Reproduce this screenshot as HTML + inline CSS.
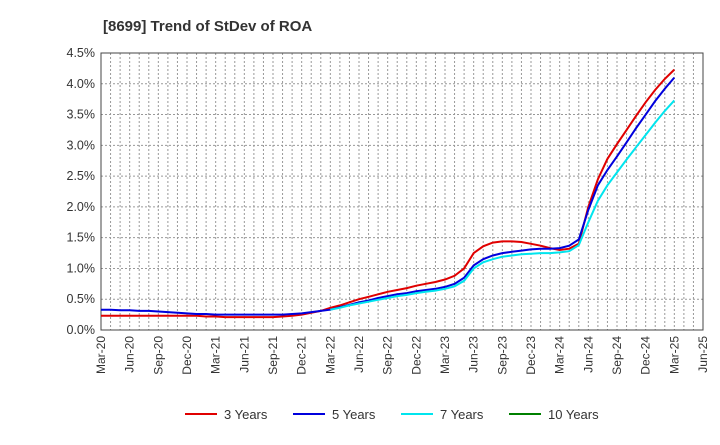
<!DOCTYPE html>
<html><head><meta charset="utf-8"><style>
body{margin:0;background:#fff;font-family:"Liberation Sans",Arial,sans-serif}
svg text{font-family:"Liberation Sans",Arial,sans-serif}
</style></head><body>
<svg id="chart" width="720" height="440">
<text x="103" y="31" font-size="15" font-weight="bold" fill="#333">[8699]  Trend of StDev of ROA</text>
<g id="grid"></g><g id="axes"></g><g id="series"></g><g id="legend"></g>
</svg>
<script>
const xLabels=["Mar-20","Jun-20","Sep-20","Dec-20","Mar-21","Jun-21","Sep-21","Dec-21","Mar-22","Jun-22","Sep-22","Dec-22","Mar-23","Jun-23","Sep-23","Dec-23","Mar-24","Jun-24","Sep-24","Dec-24","Mar-25","Jun-25"];
const yTicks=[0,0.5,1,1.5,2,2.5,3,3.5,4,4.5];
const seriesNames=["3 Years","5 Years","7 Years","10 Years"];
const seriesColors=["#e00000","#0000dd","#00e5ee","#008000"];
const s3=[0.23,0.23,0.23,0.23,0.23,0.23,0.23,0.23,0.23,0.23,0.23,0.22,
0.22,0.21,0.21,0.21,0.21,0.21,0.21,0.22,0.23,0.25,0.28,0.31,
0.36,0.40,0.45,0.50,0.54,0.58,0.62,0.65,0.68,0.72,0.75,0.78,
0.82,0.88,1.0,1.25,1.36,1.42,1.44,1.44,1.43,1.40,1.37,1.33,
1.30,1.32,1.40,2.0,2.45,2.78,3.02,3.25,3.48,3.7,3.9,4.08,4.23];
const s5=[0.33,0.33,0.32,0.32,0.31,0.31,0.30,0.29,0.28,0.27,0.26,0.26,
0.25,0.25,0.25,0.25,0.25,0.25,0.25,0.25,0.26,0.27,0.29,0.31,
0.33,0.37,0.41,0.45,0.48,0.52,0.55,0.58,0.60,0.63,0.65,0.67,
0.70,0.75,0.85,1.05,1.15,1.21,1.25,1.27,1.29,1.31,1.32,1.32,
1.33,1.37,1.47,1.95,2.35,2.6,2.82,3.05,3.28,3.5,3.72,3.92,4.1];
const s7=[null,null,null,null,null,null,null,null,null,null,null,null,
null,null,null,null,null,null,null,null,null,null,null,null,
0.33,0.36,0.40,0.43,0.46,0.49,0.52,0.55,0.57,0.60,0.62,0.64,
0.67,0.71,0.80,1.00,1.10,1.15,1.19,1.21,1.23,1.24,1.25,1.25,
1.26,1.28,1.38,1.75,2.1,2.35,2.56,2.77,2.97,3.17,3.37,3.56,3.73];
const s10=[];
const L=101,R=703,T=53,B=330,NM=63;
const xs=m=>L+(R-L)*m/NM;
const ys=v=>B-(B-T)*v/4.5;
const NS="http://www.w3.org/2000/svg";
function mk(tag,attrs,parent){const e=document.createElementNS(NS,tag);for(const k in attrs)e.setAttribute(k,attrs[k]);parent.appendChild(e);return e;}
const grid=document.getElementById('grid'),axes=document.getElementById('axes'),ser=document.getElementById('series'),leg=document.getElementById('legend');
for(let m=1;m<NM;m++){const g=mk('line',{x1:xs(m),x2:xs(m),y1:T,y2:B,stroke:'#999','stroke-dasharray':'2,2','stroke-width':1},grid);

}
yTicks.forEach(v=>{if(v>0&&v<4.5){const g=mk('line',{x1:L,x2:R,y1:ys(v),y2:ys(v),stroke:'#999','stroke-dasharray':'2,2','stroke-width':1},grid);

}
const t=mk('text',{x:L-6,y:ys(v)+4,'text-anchor':'end','font-size':12.5,fill:'#333'},axes);t.textContent=v.toFixed(1)+'%';

});
const fr=mk('rect',{x:L,y:T,width:R-L,height:B-T,fill:'none',stroke:'#444','stroke-width':1},axes);


xLabels.forEach((lab,i)=>{const x=xs(i*3),y=B+6;const t=mk('text',{x:x+4,y:y,'text-anchor':'end','font-size':12,fill:'#333',transform:`rotate(-90 ${x+4} ${y})`},axes);t.textContent=lab;

});
[s3,s5,s7,s10].forEach((arr,si)=>{let d='';arr.forEach((v,i)=>{if(v==null)return;d+=(d?'L':'M')+xs(i).toFixed(1)+','+ys(v).toFixed(1);});
if(d){const p=mk('path',{d:d,fill:'none',stroke:seriesColors[si],'stroke-width':2},ser);

}});
const lx=[185,293,401,509];
seriesNames.forEach((n,i)=>{const g=mk('g',{},leg);


mk('line',{x1:lx[i],x2:lx[i]+32,y1:414,y2:414,stroke:seriesColors[i],'stroke-width':2},g);
const t=mk('text',{x:lx[i]+39,y:419,'font-size':13,fill:'#333'},g);t.textContent=n;});
</script>
</body></html>
